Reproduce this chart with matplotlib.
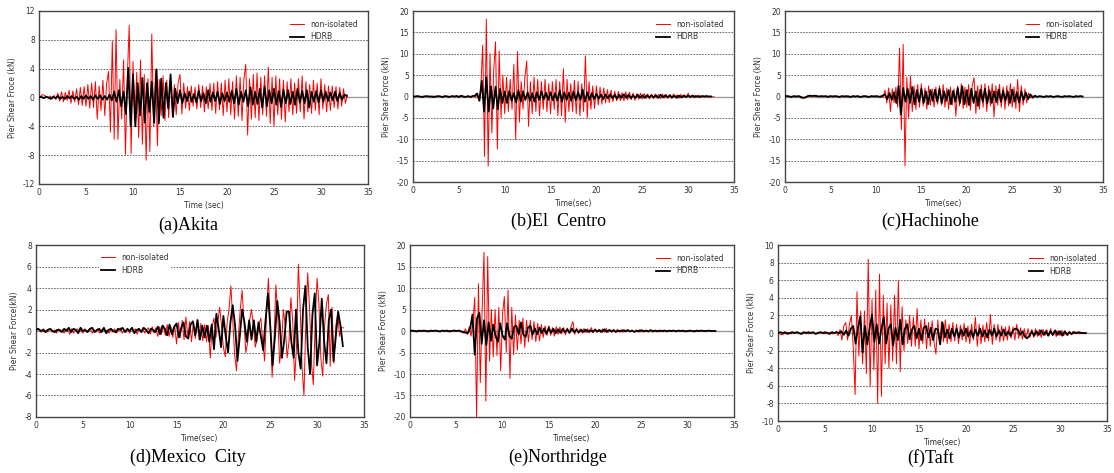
import numpy as np
import matplotlib.pyplot as plt

plt.rcParams['axes.unicode_minus'] = False

# sample spacing (sec) of the traces
dt_red = 0.2
dt_blk = 0.25

# ---- (a) Akita ----
akita_red = [
    0, .2, .4, .3, .1, -.1, .2, -.2, .3, -.3,
    .6, -.5, .8, -.6, .7, -.4, 1.0, -.8, .9, -.6,
    1.2, -1.0, 1.4, -1.1, 1.5, -1.2, 1.8, -1.5, 2.0, -1.4,
    2.2, -3.0, 1.6, -1.8, 2.4, -2.5, 2.0, 3.6, -4.8, 7.8,
    -5.8, 9.4, -5.8, 2.5, -3.0, 5.2, -7.9, 3.0, 10.0, -7.8,
    5.0, -3.0, 3.5, -5.6, 5.2, -6.5, 3.2, -8.7, 2.6, -7.5,
    8.8, -4.0, 3.8, -6.7, 2.5, -2.5, 3.0, -3.2, 2.4, -2.8,
    2.6, -2.0, 1.8, -2.4, 2.0, 3.2, -2.3, 2.0, -1.5, 1.5,
    -1.8, 1.6, -1.2, 1.4, -1.6, 1.8, -1.4, 1.6, -2.0, 1.5,
    -1.6, 1.9, -1.8, 2.0, -2.2, 2.2, -1.7, 2.0, -2.5, 2.4,
    -2.0, 2.6, -2.4, 2.2, -3.0, 3.0, -2.6, 2.8, -3.2, 2.5,
    4.6, -5.2, 2.6, -3.0, 3.2, -2.8, 3.4, -3.2, 2.8, -2.4,
    3.0, -2.6, 4.2, -3.6, 2.8, -4.0, 3.0, -2.4, 2.6, -3.0,
    2.4, -3.4, 2.2, -2.0, 2.6, -2.4, 2.0, -2.2, 2.6, -2.0,
    3.0, -3.0, 2.2, -2.0, 1.8, -2.2, 2.4, -1.8, 2.0, -2.4,
    2.6, -1.6, 1.8, -2.0, 1.6, -1.8, 1.6, -1.4, 1.5, -1.6,
    1.4, -1.2, 1.2, -0.8, 0.4]
akita_blk = [
    0, .1, -.1, .1, 0, -.2, .1, -.1,
    .2, -.2, .1, -.2, .2, -.1, .2, -.2,
    .1, -.3, .2, -.2, .3, -.2, .2, -.3,
    .3, -.2, .3, -.3, .2, -.3, .4, -.4,
    .8, -.6, 1.0, -1.2, .8, -2.3, 4.1, -4.0,
    3.2, -4.0, 2.0, -2.5, 2.7, -3.5, 2.0, -2.0,
    2.2, -3.5, 3.9, -3.6, 2.6, -2.8, 2.0, -1.5,
    3.2, -2.7, 1.2, -.8, 1.0, -.8, .6, -.5,
    .8, -.6, .5, -.7, .9, -.5, .6, -.8,
    1.0, -.6, .7, -.5, .8, -.9, .6, -.5,
    .7, -.6, .9, -.8, 1.2, -1.0, .8, -.6,
    1.0, -1.2, 1.4, -1.0, .8, -.9, 1.2, -1.4,
    1.5, -1.2, 1.0, -.8, 1.2, -1.0, .9, -1.3,
    1.1, -.8, 1.0, -.9, .8, -1.0, 1.2, -.7,
    .9, -.8, 1.0, -1.4, .8, -.6, .9, -.7,
    1.0, -.6, .8, -.5, .7, -.4, .8, -.5,
    .6, -.3, .4, .2]

# ---- (b) El Centro ----
elcentro_red = [
    0, 0, .1, 0, -.1, 0, .1, 0, 0, -.1,
    0, .1, 0, -.1, .1, 0, -.2, .1, 0, .1,
    -.1, 0, .1, -.1, .2, 0, -.1, .1, 0, -.1,
    .1, 0, -.1, .2, -.2, .4,
    -1.0, 2.0, 12.0, -14.0, 18.1, -16.3, 10.0, -8.5, 6.0, 12.8,
    -12.3, 10.7, -5.0, 5.0, -4.0, 4.5, -3.5, 4.0, -3.0, 7.5,
    -10.0, 10.5, -6.0, 3.5, -3.0, 4.5, 8.3, -7.0, 3.5, -4.0,
    4.5, -3.5, 4.0, -4.5, 3.5, -3.0, 4.0, -3.5, 3.0, -4.0,
    3.5, -3.0, 4.0, -4.5, 3.5, -4.5, 6.5, -6.0, 4.0, -3.5,
    3.0, -3.5, 3.8, -4.0, 3.5, -4.5, 3.0, -3.5, 9.5, -5.0,
    3.5, -3.0, 2.5, -2.8, 2.5, -2.0, 2.2, -1.8, 2.0, -1.5,
    1.6, -1.4, 1.5, -1.2, 1.2, -1.0, 1.2, -1.0, .9, -1.0,
    1.1, -.8, 1.0, -.7, .8, -.9, .7, -.6, .8, -.6,
    .7, -.5, .6, -.6, .5, -.5, .6, -.4, .5, -.5,
    .6, -.4, .5, -.4, .4, -.5, .6, -.3, .4, -.4,
    .5, -.3, .4, -.3, .8, -.3, .3, -.3, .3, -.2,
    .3, -.2, .2, -.2, .2, -.1, .1, -.1, 0]
elcentro_blk = [
    0, 0, .1, 0, -.1, 0, .1, 0, 0, -.1, 0, .1, 0, -.1,
    .1, 0, -.1, .1, 0, .1, -.1, .2, 0, -.1, .1, -.1, .1, .2,
    .7, -1.0, 3.7, -3.5, 4.5, -3.5, 2.4, -2.8,
    2.3, -3.0, 1.8, -1.5, 1.2, -1.5, 1.3, -1.0,
    .8, -1.4, 1.5, -1.2, 1.2, -.8, 1.0, -1.0,
    .8, -1.2, 1.0, -.8, 1.2, -.7, .9, -.8,
    1.0, -.9, .8, -1.0, 1.4, -1.2, 1.0, -.8,
    .9, -1.0, 1.2, -.9, 1.0, -.8, 1.6, -1.2,
    1.0, -.8, .8, -.6, .6, -.5, .5, -.6,
    .5, -.4, .5, -.4, .4, -.5, .4, -.3,
    .5, -.3, .4, -.4, .3, -.3, .4, -.3,
    .3, -.3, .3, -.2, .3, -.2, .3, -.3,
    .4, -.2, .3, -.2, .3, -.2, .2, -.3,
    .2, -.2, .2, -.1, .2, -.1, .2, -.1,
    .1, -.1, .1, 0, .1, 0, 0]

# ---- (c) Hachinohe ----
hachinohe_red = [
    0, .1, 0, -.1, .1, 0, -.1, 0, .1, 0,
    -.4, -.3, 0, .1, 0, .2, .1, 0, .1, -.1,
    0, .1, 0, -.1, .1, 0, .1, -.1, 0, .1,
    0, -.1, .1, 0, -.1, .1, 0, .1, -.1, 0,
    .1, 0, -.1, .1, 0, .1, -.1, 0, .1, 0,
    -.1, .1, 0, .2, -.2,
    1.5, -1.5, 2.0, -3.5, 1.8, -1.5, 2.2, -2.5, 11.3, -7.8,
    12.2, -16.2, 4.5, -5.0, 4.8, -3.5, 2.5, -3.0, 2.8, -2.5,
    3.0, -2.2, 2.0, -3.0, 2.5, -2.0, 1.8, -2.5, 2.2, -1.8,
    2.5, -2.0, 2.8, -2.5, 2.0, -3.0, 2.2, -2.0, 1.8, -4.6,
    2.5, -2.2, 3.0, -2.8, 2.2, -2.5, 2.8, -3.2, 2.5, 4.4,
    -4.0, 2.5, -3.0, 2.8, -2.5, 3.0, -3.5, 2.5, -2.2, 3.0,
    -4.8, 2.5, -2.0, 2.8, -2.5, 2.2, -3.0, 2.5, -2.2, 3.0,
    -2.5, 2.2, -2.8, 4.0, -3.5, 2.5, -2.0, 1.8, -1.5, .8,
    -.3, .2]
hachinohe_blk = [
    0, .1, 0, -.1, .1, 0, .1, -.2, -.3, -.2, .1,
    .2, .1, .2, .1, 0, .1, 0, .1, -.1, .1, 0,
    .1, 0, -.1, .1, 0, .1, 0, -.1, .1, 0, .1,
    -.1, 0, .1, 0, -.1, .1, 0, .1, 0, -.1, .2,
    .5, -.6, .8, -.8, 1.0, -1.5, 2.5, -4.2,
    2.0, -1.2, 1.8, -1.5, 2.2, -1.8, 1.5, -1.2,
    1.8, -1.5, 1.2, -1.8, 1.5, -1.0, 1.6, -1.2,
    1.8, -1.5, 1.2, -1.0, 1.5, -1.8, 1.3, -1.2,
    2.0, -1.5, 2.4, -1.8, 1.5, -2.0, 1.8, -1.5,
    1.2, -2.2, 1.6, -1.2, 1.8, -1.6, 1.4, -1.5,
    1.2, -1.3, 1.6, -1.2, 1.4, -1.0, 1.2, -1.5,
    1.6, -1.2, 1.0, -1.4, 1.2, -.8, .9, -.6,
    .5, -.3, .2, -.1,
    .1, 0, -.1, .1, 0, .1, -.1, 0, .1, 0,
    -.1, .1, 0, .1, 0, -.1, .1, 0, .1, 0]

# ---- (d) Mexico City ----
mexico_red = [
    .1, .2, .1, -.1, .2, 0, -.1, .1, .2, -.1,
    .1, -.2, .2, 0, .1, -.2, .2, .1, -.3, .2,
    -.2, .1, .2, -.1, .1, -.2, .2, -.1, .1, .2,
    -.2, .1, -.1, .2, -.2, .1, .2, -.1, .1, -.2,
    .2, -.1, .2, -.2, .1, .3, -.2, .1, -.1, .2,
    -.2, .3, -.1, .2, -.3, .2, -.1, .3, -.2, .1,
    .3, -.3, .4, -.2, .3, -.5, .4, -.3, .5, -.4,
    .6, -.5, .4, -.6, .5,
    -1.2, .8, -.6, 1.0, -.8, 1.3, -.5, .9, -1.0, .8,
    -.7, 1.1, -.8, .7, -.9,
    .6, -1.0, .5, -2.5, .4, 1.2, -.6, .8, 2.2, .5,
    -1.5, -2.4, .8, 2.0, 4.2, 1.0, -2.2, -3.7, -.5, 2.0,
    3.8, .8, -2.0, -1.0, 1.0, 2.0, .5, -1.5, -.8, .6,
    1.2, -1.0, -2.8, 1.5, 4.9, 1.0, -4.3, -1.0, 4.3, 1.5,
    -3.0, -1.5, 2.0, .5, -2.5, -1.0, 3.1, 1.0, -4.6, -1.5,
    6.2, 2.0, -3.5, -6.0, 1.0, 5.4, 2.0, -3.0, -5.0, 1.0,
    4.9, 2.5, -2.5, -4.2, .5, 2.5, 3.4, -3.3, 2.2, -3.0,
    .5, 1.7, -.5, .3, .3]
mexico_blk = [
    .1, .2, 0, .1, -.1, .1, .2, 0, -.1, .1, .1, -.1, .2,
    0, .3, -.1, .2, .1, -.2, .3, 0, .1, -.1, .2, .3, -.1,
    .1, .2, -.1, .3, -.2, .1, .2, 0, -.1, .2, .1, .3, -.1,
    .2, 0, .3, -.2, .1, .2, -.1, .3, .1, -.2, .2, .1, -.1,
    .4, -.3, .5, .2, -.4, .6, -.3, .4,
    .7, -.6, .3, .8, -.5, -.7, .6, .9, -.4, 1.0, -.8, .5,
    -.6, .5, -1.0, .6, -1.7, 1.6, .2, -1.5,
    1.4, -.5, -2.0, .8, 2.4, .5, -2.8, -.5,
    2.0, .8, -1.0, 1.0, -.8, 1.0, -1.0, .8,
    -.5, -1.8, 1.0, 3.5, .5, -3.2, -.5, 2.8,
    .8, -2.5, -.8, 1.8, 1.8, -1.0, -2.5, 2.0,
    -2.0, -3.5, 2.0, 4.2, -1.5, -4.0, 1.5, 3.5,
    -3.2, -1.0, 3.0, -1.0, -3.0, 1.0, 2.0, -2.8,
    -.5, 1.8, .5, -1.4]

# ---- (e) Northridge ----
northridge_red = [
    0, .1, 0, -.1, .1, 0, .1, -.1, 0, .1,
    0, -.1, .1, 0, .1, 0, -.1, .1, 0, .1,
    -.1, 0, .1, 0, .2, -.1, .1, .2, -.3,
    -.5, .5, -.8, 1.0, -1.2, 2.0, 7.8, -20.0, 11.0, -12.0,
    5.0, 18.3, -16.3, 17.3, -7.0, 5.0, -6.0, 5.0, -5.7, 5.5,
    -9.3, 4.0, 8.0, -5.0, 9.5, -11.0, 5.5, -5.5, 3.7, -4.5,
    2.5, -3.0, 3.0, -3.8, 2.5, -2.5, 2.5, -2.0, 2.2, -2.5,
    1.8, -2.3, 1.5, -1.5, 1.2, -1.0, 1.2, -1.0, .8, -1.2,
    1.0, -.8, .9, -.7, .8, -.9, .7, -.6, 1.0, 2.2,
    -.8, .7, -.6, .5, -.5, .6, -.4, .5, -.4, .8,
    -.4, .5, -.3, .4, -.4, .5, -.3, .6, -.3, .4,
    -.3, .3, -.3, .4, -.2, .3, -.3, .3, -.2, .3,
    -.2, .2, -.3, .2, -.2, .3, -.2, .2, -.2, .2,
    -.2, .3, -.2, .2, -.1, .2, -.2, .1, -.2, .2,
    -.1, .1, -.1, .2, -.1, .1, -.1, .1, -.1, .1,
    -.1, .1, -.1, .1, 0, .1, -.1, .1, 0, .1,
    -.1, .1, 0, .1, 0, 0]
northridge_blk = [
    0, .1, 0, -.1, .1, 0, .1, 0, -.1, .1, 0, .1,
    0, -.1, .1, 0, .1, -.1, 0, .1, 0, .1, -.1,
    -.2, -.4, -.5, .5, 3.8, -5.5, 3.0, 4.2, -3.0,
    2.5, -3.3, 2.0, -2.3, 1.5, -1.2, -2.5, 1.8,
    -1.0, -2.0, 1.8, -1.2, -1.8, 1.0, 1.2, -.8,
    2.0, -.8, -1.4, .8, 1.2, -.8, .6, -.8,
    .8, -.5, .6, -.7, .8, -.4, .5, -.5,
    .4, -.4, .5, -.3, .4, -.4, .6, -.3,
    .3, -.3, .3, -.2,
    .3, -.2, .2, -.2, .3, -.1, .2, -.2, .4, -.2,
    .2, -.1, .2, -.2, .1, -.1, .2, -.1, .2, -.1,
    .1, -.2, .1, -.1, .2, -.1, .1, -.1, .2, -.1,
    .1, -.1, .1, 0, .1, -.1, .1, 0, .1, -.1,
    .1, 0, .1, -.1, 0, .1, 0, -.1, .1, 0,
    .1, 0, 0, .1, 0, 0, 0]

# ---- (f) Taft ----
taft_red = [
    0, -.1, -.2, -.1, 0, .1, 0, -.1, .1, 0,
    .1, 0, -.1, .1, 0, .1, -.1, 0, .1, 0,
    -.1, .1, 0, .1, 0, -.1, .1, 0, .1, -.1,
    0, .2, -.3,
    .4, -.8, .8, 1.2, -.8, 1.0, 2.0, -1.5, -7.0, 4.7,
    -2.6, 2.5, -3.5, 2.5, -4.6, 8.4, -6.1, 3.8, -4.2, 4.9,
    -8.0, 6.7, -7.2, 4.3, -3.5, 3.4, -4.0, 3.2, -3.2, 4.3,
    -3.5, 6.0, -4.4, 3.0, -2.0, 1.5, -1.2, 2.0, -1.5, 1.8,
    -1.5, 2.8, -1.8, 1.5, -1.2, 1.6, -1.8, 1.2, -1.5, 1.4,
    -1.0, -2.4, 1.5, -1.2, 1.3, -1.0, 1.5, -1.2, 1.0, -1.0,
    1.2, -.9, 1.0, -1.2, .9, -.8, 1.1, -1.0, .8, -1.2,
    1.0, -.8, 1.8, -1.5, 1.0, -1.2, .9, -1.0, 1.2, -.9,
    2.1, -1.3, 1.0, -.8, 1.0, -1.0, .8, -.9, .7, -.8,
    .8, -.6, .7, -.8, 1.0, -.6, .6, -.7, .5, -.6,
    .5, -.5, .4, -.5, .5, -.4, .4, -.5, .4, -.3,
    .4, -.3, .5, -.3, .3, -.4, .3, -.3, .3, -.3,
    .2, -.3, .2, -.2, .2, -.1, .1, -.1, .1, 0, 0]
taft_blk = [
    0, .1, 0, .1, -.1, 0, .1, 0, .1, 0, -.1, .1, 0, .1,
    0, .1, -.1, 0, .1, 0, .1, 0, -.1, .1, 0, .1, 0, .2,
    -.2, .3, -.3, .5, .8, -1.2, .5, 1.9,
    -2.2, .8, -1.3, .6, 2.1, -1.0, 1.0, -1.2,
    .5, 1.8, -1.2, .5, 1.0, -1.4, .6, -.8,
    1.5, -1.3, .5, 1.0, -.7, .4, .8, -.6,
    .5, -.8, .6, .8, -.5, .6, -.8, .5,
    .4, -1.3, 1.2, -.5, .4, -.6, .5, -.4,
    .5, -.5, .4, -.3, .5, -.4, .3, -.5,
    .4, -.3, .5, -.4, .3, -.5, .4, -.3,
    .5, -.4, .3, -.3, .4, -.3, .2, -.3,
    .3, .5, .4, -.2, .2, -.4, -.6, -.3,
    .2, -.3, .2, -.2, .3, -.2, .2, -.3,
    .2, -.2, .3, -.2, .2, -.3, .2, -.2,
    .1, -.1, .1, 0, .1, 0, 0, 0]

panels = [
    dict(red=akita_red, blk=akita_blk, lim=12, step=4,
         ylabel='Pier Shear Froce (kN)', xlabel='Time (sec)', title='(a)Akita',
         rect=[0.035, 0.611, 0.2953, 0.3658], cap=(0.169, 0.524)),
    dict(red=elcentro_red, blk=elcentro_blk, lim=20, step=5,
         ylabel='Pier Shear Force (kN)', xlabel='Time(sec)', title='(b)El  Centro',
         rect=[0.3707, 0.6152, 0.2882, 0.3615], cap=(0.501, 0.531)),
    dict(red=hachinohe_red, blk=hachinohe_blk, lim=20, step=5,
         ylabel='Pier Shear Force (kN)', xlabel='Time(sec)', title='(c)Hachinohe',
         rect=[0.7047, 0.6152, 0.2855, 0.3615], cap=(0.835, 0.531)),
    dict(red=mexico_red, blk=mexico_blk, lim=8, step=2,
         ylabel='Pier Shear Force(kN)', xlabel='Time(sec)', title='(d)Mexico  City',
         rect=[0.0323, 0.1184, 0.2944, 0.3636], cap=(0.169, 0.033)),
    dict(red=northridge_red, blk=northridge_blk, lim=20, step=5,
         ylabel='Pier Shear Force (kN)', xlabel='Time(sec)', title='(e)Northridge',
         rect=[0.368, 0.1184, 0.2908, 0.3636], cap=(0.501, 0.033)),
    dict(red=taft_red, blk=taft_blk, lim=10, step=2,
         ylabel='Pier Shear Force (kN)', xlabel='Time(sec)', title='(f)Taft',
         rect=[0.6984, 0.1099, 0.2953, 0.372], cap=(0.835, 0.031)),
]

fig = plt.figure(figsize=(11.14, 4.73), dpi=100)

for i, p in enumerate(panels):
    ax = fig.add_axes(p['rect'])
    red = np.array(p['red'])
    blk = np.array(p['blk'])
    ax.plot(dt_red * np.arange(len(red)), red, color='red', lw=0.7, zorder=3,
            label='non-isolated')
    ax.plot(dt_blk * np.arange(len(blk)), blk, color='black', lw=1.3, zorder=4,
            label='HDRB')
    lim, step = p['lim'], p['step']
    ticks = np.arange(-lim, lim + step, step)
    for y in ticks[1:-1]:
        if y != 0:
            ax.axhline(y, color='#555555', lw=0.6, ls=(0, (2, 1.5)), zorder=1)
    ax.axhline(0, color='#999999', lw=1.0, zorder=2)
    ax.set_xlim(0, 35)
    ax.set_ylim(-lim, lim)
    ax.set_xticks(range(0, 36, 5))
    ax.set_yticks(ticks)
    ax.tick_params(length=0, labelsize=5.5, labelcolor='#333333', pad=3)
    for s in ax.spines.values():
        s.set_color('#444444')
        s.set_linewidth(1.0)
    ax.set_ylabel(p['ylabel'], fontsize=5.5, color='#333333', labelpad=4)
    ax.set_xlabel(p['xlabel'], fontsize=5.5, color='#333333', labelpad=3)
    if i == 3:
        leg = ax.legend(loc='upper left', bbox_to_anchor=(0.18, 0.99), fontsize=5.5,
                        frameon=True, handlelength=1.8, borderpad=0.3,
                        labelspacing=0.5, fancybox=False)
        leg.get_frame().set_edgecolor('none')
        leg.get_frame().set_facecolor('white')
        leg.get_frame().set_alpha(1)
    else:
        leg = ax.legend(loc='upper right', bbox_to_anchor=(0.99, 0.99), fontsize=5.5,
                        frameon=False, handlelength=1.8, labelspacing=0.5)
    for txt in leg.get_texts():
        txt.set_color('#333333')
    fig.text(p['cap'][0], p['cap'][1], p['title'], ha='center', va='center',
             fontfamily='Liberation Serif', fontsize=13)

fig.savefig('out.png', dpi=100)
